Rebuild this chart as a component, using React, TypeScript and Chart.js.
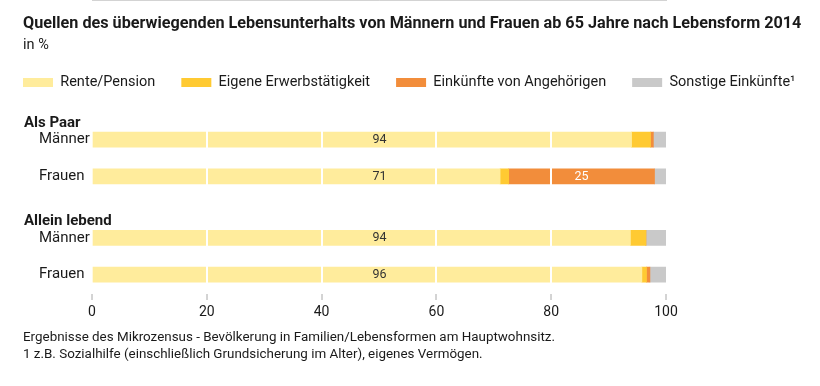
import React, { useEffect, useRef } from 'react';
import { Chart, registerables } from 'chart.js';

Chart.register(...registerables);

const FONT = 'Roboto';
const TEXT = '#1a1a1a';
const AXIS = '#a8a8a8';

const titleText =
  'Quellen des überwiegenden Lebensunterhalts von Männern und Frauen ab 65 Jahre nach Lebensform 2014';
const unitText = 'in %';
const groups = ['Als Paar', 'Allein lebend'];
const rows = ['Männer', 'Frauen'];
const seriesNames = [
  'Rente/Pension',
  'Eigene Erwerbstätigkeit',
  'Einkünfte von Angehörigen',
  'Sonstige Einkünfte¹',
];
// order: Als Paar Männer, Als Paar Frauen, Allein lebend Männer, Allein lebend Frauen
const rentePension = [94.0, 71.1, 93.8, 95.8];
const erwerbstaetigkeit = [3.3, 1.5, 2.7, 0.8];
const angehoerige = [0.5, 25.4, 0.0, 0.6];
const sonstige = [2.2, 2.0, 3.5, 2.8];
const xTicks = [0, 20, 40, 60, 80, 100];
const footnotes = [
  'Ergebnisse des Mikrozensus - Bevölkerung in Familien/Lebensformen am Hauptwohnsitz.',
  '1 z.B. Sozialhilfe (einschließlich Grundsicherung im Alter), eigenes Vermögen.',
];

const seriesValues = [rentePension, erwerbstaetigkeit, angehoerige, sonstige];
const colors = ['#FFEC9C', '#FFCA32', '#F28D3B', '#C9C9C9'];
const groupAxes = ['yPaar', 'yAllein'];

const legendMargin = {
  id: 'legendMargin',
  beforeInit(chart: any) {
    const legend = chart.legend;
    if (legend && !legend.__patched) {
      const orig = legend.fit;
      legend.fit = function () {
        orig.call(this);
        this.height = 72;
      };
      legend.__patched = true;
    }
  },
};

const textPlugin = {
  id: 'texts',
  afterDraw(chart: any) {
    const ctx = chart.ctx as CanvasRenderingContext2D;
    ctx.save();
    ctx.fillStyle = TEXT;
    ctx.textBaseline = 'middle';
    ctx.textAlign = 'left';
    ctx.font = `bold 16.2px ${FONT}`;
    ctx.fillText(titleText, 23, 24);
    ctx.font = `14.5px ${FONT}`;
    ctx.fillText(unitText, 23, 45);

    groupAxes.forEach((id, g) => {
      const s = chart.scales[id];
      ctx.fillStyle = TEXT;
      ctx.textAlign = 'left';
      ctx.font = `bold 15px ${FONT}`;
      ctx.fillText(groups[g], 24, s.top + 1.5);
      ctx.font = `15px ${FONT}`;
      rows.forEach((r, i) => ctx.fillText(r, 39, s.getPixelForValue(i)));
    });

    // value labels
    ctx.font = `12.5px ${FONT}`;
    ctx.textAlign = 'center';
    chart.data.datasets.forEach((ds: any, d: number) => {
      const s = d % seriesValues.length;
      const g = Math.floor(d / seriesValues.length);
      const meta = chart.getDatasetMeta(d);
      ds.data.forEach((v: number, i: number) => {
        if (v < 10) return;
        const bar = meta.data[i] as any;
        let x = (bar.x + bar.base) / 2;
        if (s === 0) {
          const last = chart.getDatasetMeta(g * seriesValues.length + seriesValues.length - 1).data[i] as any;
          x = (bar.base + last.x) / 2;
          ctx.fillStyle = '#333333';
        } else {
          ctx.fillStyle = '#ffffff';
        }
        ctx.fillText(String(Math.round(v)), x, bar.y);
      });
    });

    ctx.fillStyle = TEXT;
    ctx.textAlign = 'left';
    ctx.font = `13.4px ${FONT}`;
    footnotes.forEach((f, i) => ctx.fillText(f, 23, 338 + i * 17));
    ctx.restore();
  },
};

export default function App() {
  const ref = useRef<HTMLCanvasElement>(null);

  useEffect(() => {
    if (!ref.current) return;
    Chart.defaults.font.family = FONT;
    const datasets: any[] = [];
    groups.forEach((_, gi) => {
      seriesValues.forEach((vals, si) => {
        datasets.push({
          label: seriesNames[si],
          data: vals.slice(gi * rows.length, gi * rows.length + rows.length),
          backgroundColor: colors[si],
          borderWidth: 0,
          barThickness: 15,
          grouped: false,
          yAxisID: groupAxes[gi],
          xAxisID: 'x',
        });
      });
    });

    const hiddenY = (extra: any) => ({
      display: true,
      position: 'left',
      ticks: { display: false },
      grid: { display: false },
      border: { display: false },
      afterFit: (s: any) => {
        s.width = 95;
      },
      ...extra,
    });

    const chart = new Chart(ref.current, {
      type: 'bar',
      data: { labels: rows, datasets },
      options: {
        responsive: false,
        animation: false,
        devicePixelRatio: 1,
        indexAxis: 'y',
        layout: { padding: { top: 49.25, left: -3, right: -40, bottom: 63 } },
        plugins: {
          legend: {
            display: true,
            position: 'top',
            align: 'start',
            labels: {
              boxWidth: 30,
              boxHeight: 9,
              padding: 26,
              color: TEXT,
              font: { size: 14.5, family: FONT },
              filter: (item: any) => item.datasetIndex < seriesValues.length,
            },
          },
          tooltip: { enabled: false },
          title: { display: false },
        },
        scales: {
          x: {
            type: 'linear',
            position: 'bottom',
            stacked: true,
            min: xTicks[0],
            max: xTicks[xTicks.length - 1],
            ticks: {
              stepSize: xTicks[1] - xTicks[0],
              color: TEXT,
              font: { size: 14, family: FONT },
              padding: 4,
            },
            grid: {
              color: (c: any) =>
                c.tick && c.tick.value > xTicks[0] && c.tick.value < xTicks[xTicks.length - 1]
                  ? '#ffffff'
                  : 'rgba(0,0,0,0)',
              lineWidth: 2,
              tickColor: AXIS,
              tickWidth: 1,
              tickLength: 7,
              z: 1,
            },
            border: { color: AXIS, width: 1 },
            afterFit: (s: any) => {
              s.height = 30;
            },
          },
          yPaar: hiddenY({
            type: 'category',
            labels: rows,
            offset: true,
            stacked: true,
            stack: 'rows',
            stackWeight: 73.5,
            weight: 3,
          }),
          ySpacer: hiddenY({
            type: 'category',
            labels: [''],
            offset: true,
            stack: 'rows',
            stackWeight: 24.75,
            weight: 2,
          }),
          yAllein: hiddenY({
            type: 'category',
            labels: rows,
            offset: true,
            stacked: true,
            stack: 'rows',
            stackWeight: 73.5,
            weight: 1,
          }),
          yRight: {
            type: 'linear',
            display: true,
            position: 'right',
            ticks: { display: false },
            grid: { display: false },
            border: { display: false },
            afterFit: (s: any) => {
              s.width = 194;
            },
          },
        },
      } as any,
      plugins: [legendMargin, textPlugin],
    });
    return () => chart.destroy();
  }, []);

  return (
    <div style={{ position: 'absolute', left: 0, top: 0, width: 820, height: 386, background: '#fff' }}>
      <canvas ref={ref} width={820} height={386} style={{ display: 'block' }} />
    </div>
  );
}
